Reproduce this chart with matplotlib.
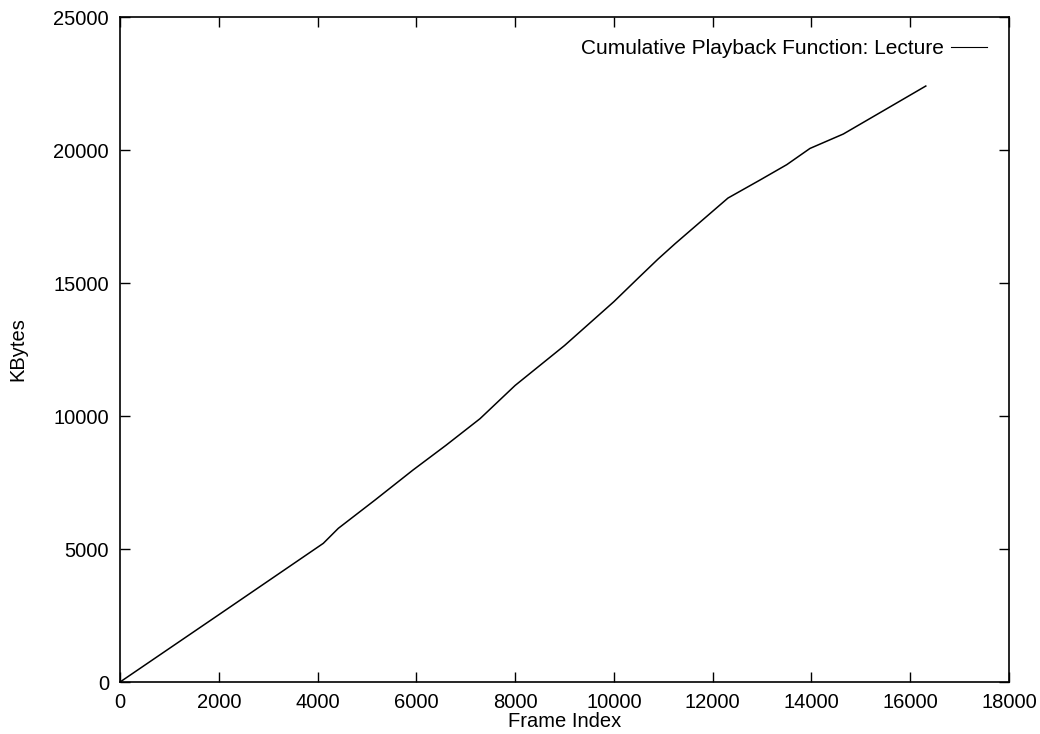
import matplotlib.pyplot as plt

plt.rcParams['font.family'] = ['Liberation Sans', 'DejaVu Sans']

# cumulative bytes played back vs frame index
frames = [0, 2000, 4116, 4420, 5163, 5932, 6600, 7289, 8000, 9000, 10000,
          10500, 10893, 11240, 12310, 12958, 13500, 13970, 14645, 15500,
          16315]
kbytes = [0, 2530, 5214, 5778, 6842, 7970, 8900, 9900, 11150, 12650, 14300,
          15200, 15900, 16480, 18195, 18872, 19450, 20060, 20602, 21525,
          22406]

fig = plt.figure(figsize=(10.4, 7.34), dpi=100)
ax = fig.add_axes([0.1154, 0.0708, 0.8548, 0.906])

ax.plot(frames, kbytes, color='black', lw=1.1,
        label='Cumulative Playback Function: Lecture')

ax.set_xlim(0, 18000)
ax.set_ylim(0, 25000)
ax.set_xticks(range(0, 18001, 2000))
ax.set_yticks(range(0, 25001, 5000))
ax.tick_params(direction='in', length=7, width=1, top=True, right=True,
               labelsize=14.5, pad=8)
for s in ax.spines.values():
    s.set_linewidth(1.2)

ax.set_xlabel('Frame Index', fontsize=14.5, labelpad=0)
ax.set_ylabel('KBytes', fontsize=14.5)
ax.yaxis.set_label_coords(-0.104, 0.5)

leg = ax.legend(loc='upper right', frameon=False, fontsize=15,
                markerfirst=False, handlelength=1.75, handletextpad=0.35,
                borderaxespad=0.65)
for h in leg.get_lines():
    h.set_linewidth(0.8)

fig.savefig('out.png', dpi=100)
